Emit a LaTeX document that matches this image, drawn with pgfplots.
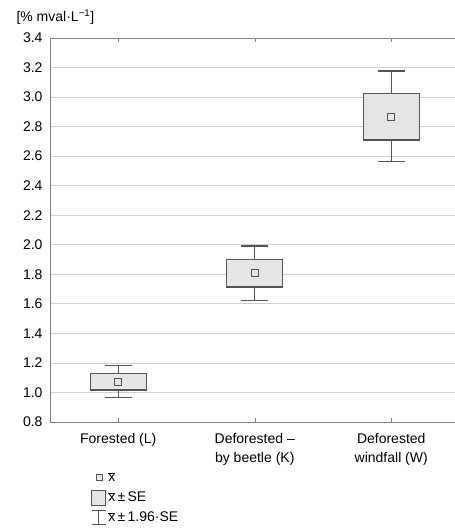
\documentclass[border=0pt]{standalone}
\usepackage{pgfplots}
\pgfplotsset{compat=1.18}
\usepgfplotslibrary{statistics}
\usepackage{fontspec}
\setmainfont{Liberation Sans}
\definecolor{boxfill}{HTML}{E6E6E6}
\definecolor{boxline}{HTML}{555555}
\definecolor{gridc}{HTML}{D0D0D0}
\definecolor{axc}{HTML}{808080}
\begin{document}
\begin{tikzpicture}[x=1pt,y=1pt]
\path[use as bounding box] (-50,-106) rectangle (405,422);
\begin{axis}[at={(0,0)}, anchor=south west, scale only axis,
  width=409.5pt, height=384pt,
  xmin=-0.5, xmax=2.5, ymin=0.8, ymax=3.4,
  ytick={0.8,1.0,1.2,1.4,1.6,1.8,2.0,2.2,2.4,2.6,2.8,3.0,3.2,3.4},
  yticklabel style={xshift=-4pt, font=\fontsize{14}{16}\selectfont,
    /pgf/number format/.cd, fixed, fixed zerofill, precision=1, assume math mode=true},
  xtick={0,1,2},
  xticklabels={Forested (L), Deforested –\\by beetle (K), Deforested\\windfall (W)},
  xticklabel style={align=center, yshift=-8pt, font=\fontsize{14}{18.5}\selectfont},
  xtick pos=both, tick align=inside, major tick length=4pt,
  ytick style={draw=none}, xtick style={axc},
  ymajorgrids, grid style={gridc, line width=0.8pt},
  axis line style={axc, line width=0.8pt},
  legend style={at={(axis description cs:0.093,-0.12)}, anchor=north west, draw=none, fill=none,
    font=\fontsize{14}{16}\selectfont, row sep=4.5pt, cells={anchor=west}},
  boxplot/draw direction=y,
  boxplot/box extend=0.41, boxplot/whisker extend=0.2,
  boxplot/draw/median/.code={},
  boxplot/every box/.style={draw=boxline, fill=boxfill, line width=1.4pt},
  boxplot/every whisker/.style={draw=boxline, line width=1.4pt},
]
\addlegendimage{legend image code/.code={\draw[boxline, line width=1pt, fill=boxfill] (0.3cm,-3pt) rectangle (0.3cm+6pt,3pt);}}
\addlegendentry{$\overline{\mbox{x}}$}
\addlegendimage{legend image code/.code={\draw[boxline, line width=1pt, fill=boxfill] (0.15cm,-7.5pt) rectangle (0.15cm+14pt,7.5pt);}}
\addlegendentry{$\overline{\mbox{x}}$\,±\,SE}
\addlegendimage{legend image code/.code={\draw[boxline, line width=1pt] (0.15cm,7pt) -- (0.15cm+14pt,7pt) (0.15cm+7pt,7pt) -- (0.15cm+7pt,-7pt) (0.15cm,-7pt) -- (0.15cm+14pt,-7pt);}}
\addlegendentry{$\overline{\mbox{x}}$\,±\,1.96·SE}
\addplot[boxline, line width=1.4pt, forget plot, boxplot prepared={draw position=0,
  lower whisker=0.967, lower quartile=1.017, median=1.069, upper quartile=1.130, upper whisker=1.181}]
  coordinates {};
\addplot[boxline, line width=1.4pt, forget plot, boxplot prepared={draw position=1,
  lower whisker=1.624, lower quartile=1.714, median=1.807, upper quartile=1.901, upper whisker=1.992}]
  coordinates {};
\addplot[boxline, line width=1.4pt, forget plot, boxplot prepared={draw position=2,
  lower whisker=2.562, lower quartile=2.709, median=2.863, upper quartile=3.025, upper whisker=3.176}]
  coordinates {};
\addplot[only marks, mark=square*, mark size=3.4pt, mark options={draw=boxline, fill=boxfill, line width=1.1pt}, forget plot]
  coordinates {(0,1.069) (1,1.807) (2,2.863)};
\end{axis}
\node[anchor=base west, font=\fontsize{14}{16}\selectfont] at (-37,400) {[\% mval·L\textsuperscript{−1}]};
\end{tikzpicture}
\end{document}
